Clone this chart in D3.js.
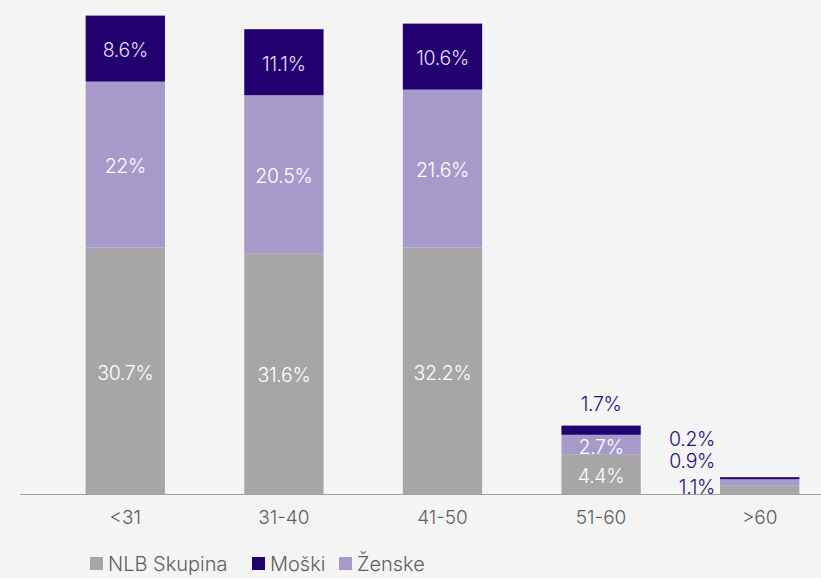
<!DOCTYPE html>
<html>
<head>
<meta charset="utf-8">
<script src="https://cdn.jsdelivr.net/npm/d3@7"></script>
<style>
  body { margin: 0; background: #f4f4f4; }
  svg { display: block; font-family: "Inter", "Open Sans", sans-serif; }
</style>
</head>
<body>
<svg id="chart" width="821" height="578"></svg>
<script>
const ageGroups = ['<31', '31-40', '41-50', '51-60', '>60'];

// segment heights as drawn (bars are not proportional to their labels)
const nlbHeights = [30.8, 30.1, 30.8, 4.9, 1.1],
	zenskeHeights = [20.75, 19.75, 19.75, 2.5, 0.75],
	moskiHeights = [8.25, 8.25, 8.25, 1.15, 0.25];

const nlbLabels = ['30.7%', '31.6%', '32.2%', '4.4%', '1.1%'],
	zenskeLabels = ['22%', '20.5%', '21.6%', '2.7%', '0.9%'],
	moskiLabels = ['8.6%', '11.1%', '10.6%', '1.7%', '0.2%'];

const seriesNames = ['NLB Skupina', 'Moški', 'Ženske'];

const GRAY = '#a6a6a6', DARK = '#23006f', LILAC = '#a899cb';

const svg = d3.select('#chart');

const x = d3.scaleBand()
	.domain(ageGroups)
	.range([46, 839])
	.paddingInner(0.5)
	.paddingOuter(0.25);

const y = d3.scaleLinear()
	.domain([0, 60])
	.range([494, 14]);

const rows = ageGroups.map((g, i) => ({
	group: g,
	nlb: nlbHeights[i], zenske: zenskeHeights[i], moski: moskiHeights[i],
	labels: { nlb: nlbLabels[i], zenske: zenskeLabels[i], moski: moskiLabels[i] }
}));

const stack = d3.stack().keys(['nlb', 'zenske', 'moski'])(rows);
const colors = { nlb: GRAY, zenske: LILAC, moski: DARK };

svg.append('g').selectAll('g')
	.data(stack)
	.join('g')
	.attr('fill', d => colors[d.key])
	.selectAll('rect')
	.data(d => d)
	.join('rect')
	.attr('x', d => x(d.data.group))
	.attr('width', x.bandwidth())
	.attr('y', d => y(d[1]))
	.attr('height', d => y(d[0]) - y(d[1]));

// baseline
svg.append('line')
	.attr('x1', 20).attr('x2', 821)
	.attr('y1', y(0) + 0.5).attr('y2', y(0) + 0.5)
	.attr('stroke', '#a0a0a0').attr('stroke-width', 1.2);

// segment labels
const labelColor = { nlb: '#ffffff', zenske: '#ffffff', moski: '#e6def5' };
stack.forEach(layer => {
	layer.forEach((d, i) => {
		const key = layer.key, txt = d.data.labels[key];
		const cx = x(d.data.group) + x.bandwidth() / 2;
		let tx = cx, ty = (y(d[0]) + y(d[1])) / 2 + 2, fill = labelColor[key], anchor = 'middle';
		if (i === 3 && key === 'moski') { ty = y(d[1]) - 21; fill = '#2a0f7c'; }
		if (i === 4) {
			anchor = 'end';
			tx = x(d.data.group) - 5;
			fill = '#2a0f7c';
			ty = key === 'nlb' ? y(0) - 7 : key === 'zenske' ? y(0) - 33 : y(0) - 55;
		}
		svg.append('text')
			.attr('x', tx).attr('y', ty)
			.attr('dy', '0.35em')
			.attr('text-anchor', anchor)
			.attr('fill', fill)
			.attr('font-size', 19.5)
			.attr('font-weight', 300)
			.attr('letter-spacing', -0.3)
			.text(txt);
	});
});

// x axis labels
svg.append('g').selectAll('text')
	.data(ageGroups)
	.join('text')
	.attr('x', d => x(d) + x.bandwidth() / 2)
	.attr('y', 517)
	.attr('dy', '0.35em')
	.attr('text-anchor', 'middle')
	.attr('fill', '#5f5f5f')
	.attr('font-size', 19)
	.attr('font-weight', 300)
	.text(d => d);

// legend
const legendX = [90, 252, 339];
const legendColors = [GRAY, DARK, LILAC];
const legend = svg.append('g').selectAll('g')
	.data(seriesNames)
	.join('g')
	.attr('transform', (d, i) => `translate(${legendX[i]},557)`);
legend.append('rect')
	.attr('width', 13).attr('height', 13)
	.attr('fill', (d, i) => legendColors[i]);
legend.append('text')
	.attr('x', 18).attr('y', 7)
	.attr('dy', '0.35em')
	.attr('fill', '#5f5f5f')
	.attr('font-size', 20)
	.attr('font-weight', 300)
	.text(d => d);
</script>
</body>
</html>
